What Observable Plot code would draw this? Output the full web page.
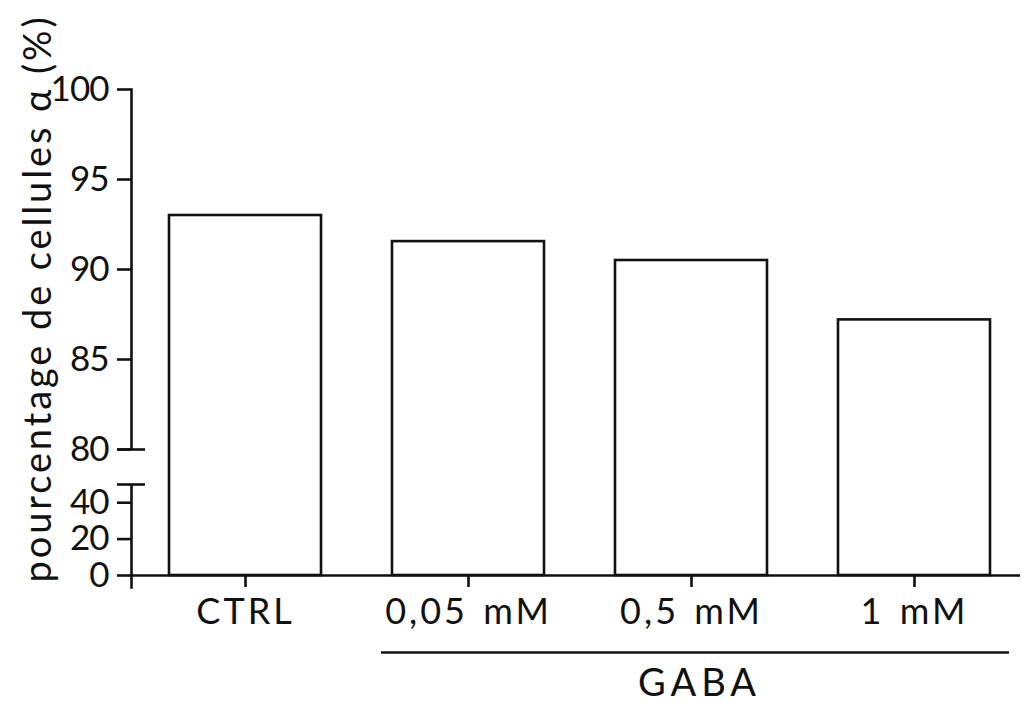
<!DOCTYPE html>
<html>
<head>
<meta charset="utf-8">
<script src="https://cdn.jsdelivr.net/npm/d3@7"></script>
<script src="https://cdn.jsdelivr.net/npm/@observablehq/plot@0.6"></script>
<style>
  html, body { margin: 0; padding: 0; background: #fff; }
  svg [aria-label="x-axis tick label"] text { letter-spacing: 3px; word-spacing: 3px; }
  svg [aria-label="y-axis tick label"] text { letter-spacing: -1px; }
  svg text.group-label { letter-spacing: 5px; }
  svg text.y-title { letter-spacing: 2.9px; }
</style>
</head>
<body>
<div id="chart"></div>
<script>
// ---- data ----
const categories = ["CTRL", "0,05 mM", "0,5 mM", "1 mM"];
const values = [93.0, 91.55, 90.5, 87.2];
const yTickValues = [0, 20, 40, 80, 85, 90, 95, 100];
const yBreak = [50, 80];           // lower segment top, upper segment bottom
const yTitle = "pourcentage de cellules α (%)";
const groupLabel = "GABA";
const groupSpan = ["0,05 mM", "1 mM"];
const groupCenter = "0,5 mM";

const data = categories.map((c, i) => ({category: c, value: values[i]}));

// ---- layout ----
const W = 1022, H = 702;
const mTop = 89, mBottom = 127, mLeft = 131, mRight = 2;
const yBottom = H - mBottom;       // pixel of 0
const lowerTopPx = 484, upperBottomPx = 449;
const ink = "#111";
const sw = 2.6;
const font = "Lato, 'Open Sans', sans-serif";

const chart = Plot.plot({
  width: W,
  height: H,
  marginTop: mTop,
  marginBottom: mBottom,
  marginLeft: mLeft,
  marginRight: mRight,
  style: {fontFamily: font, fontSize: "36px", color: ink, background: "#fff"},
  x: {type: "band", domain: categories, paddingInner: 0.318, paddingOuter: 0.152, align: 0.56, label: null},
  y: {type: "linear", domain: [0, yBreak[0], yBreak[1], 100],
      range: [yBottom, lowerTopPx, upperBottomPx, mTop], label: null},
  marks: [
    // vertical axis line (full), gap erased below
    Plot.frame({anchor: "left", stroke: ink, strokeWidth: sw, insetBottom: -12}),
    Plot.rect([yBreak], {y1: d => d[0], y2: d => d[1], fill: "#fff", insetLeft: -6}),
    // bars
    Plot.barY(data, {x: "category", y: "value", fill: "#fff", stroke: ink, strokeWidth: sw}),
    // baseline
    Plot.ruleY([0], {stroke: ink, strokeWidth: sw}),
    // y ticks + labels
    Plot.axisY({ticks: yTickValues, tickSize: 14, tickPadding: 9, strokeWidth: sw, stroke: ink,
                fill: ink, label: null, fontSize: 35}),
    // break caps
    Plot.axisY({ticks: yBreak, tickSize: 28, dx: 14, strokeWidth: sw, stroke: ink,
                tickFormat: () => "", label: null}),
    // x ticks + labels
    Plot.axisX({tickSize: 12, tickPadding: 11, strokeWidth: sw, stroke: ink, fill: ink,
                label: null, fontSize: 36}),
    // group bracket
    Plot.ruleY([0], {x1: () => groupSpan[0], x2: () => groupSpan[1], dy: 77,
                     insetLeft: -11, insetRight: -19, stroke: ink, strokeWidth: sw}),
    Plot.text([groupLabel], {x: () => groupCenter, y: () => 0, text: d => d, dy: 120, dx: 8,
                 lineAnchor: "bottom", textAnchor: "middle", fontSize: 38, fill: ink}),
    // y title
    Plot.text([yTitle], {frameAnchor: "left", text: d => d, rotate: -90, dx: -81, dy: -34,
                 lineAnchor: "bottom", textAnchor: "middle", fontSize: 38, fill: ink})
  ]
});

// tag the two free-standing texts so the stylesheet can space their letters
d3.select(chart).selectAll("text").each(function () {
  const t = this.textContent;
  if (t === yTitle) this.classList.add("y-title");
  if (t === groupLabel) this.classList.add("group-label");
});

document.getElementById("chart").appendChild(chart);
</script>
</body>
</html>
